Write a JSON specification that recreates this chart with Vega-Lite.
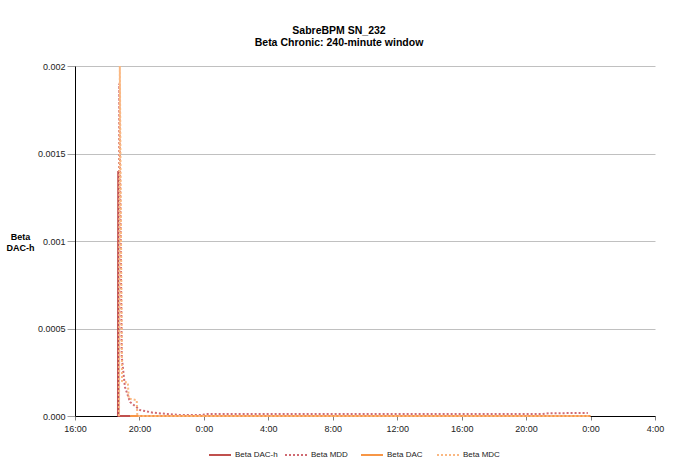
{
  "$schema": "https://vega.github.io/schema/vega-lite/v6.json",
  "width": 580,
  "height": 350,
  "autosize": {"type": "none"},
  "padding": {"left": 75, "top": 66, "right": 18, "bottom": 58},
  "background": "white",
  "title": {
    "text": ["SabreBPM SN_232", "Beta Chronic: 240-minute window"],
    "fontSize": 10.5,
    "fontWeight": "bold",
    "color": "#000000",
    "lineHeight": 12,
    "anchor": "middle",
    "dx": -26,
    "offset": 14
  },
  "data": {
    "values": [
      {"h": 18.667, "s": "Beta DAC-h", "v": 0},
      {"h": 18.683, "s": "Beta DAC-h", "v": 0.0014},
      {"h": 18.700, "s": "Beta DAC-h", "v": 0},
      {"h": 19.417, "s": "Beta DAC-h", "v": 0},
      {"h": 18.700, "s": "Beta MDD", "v": 0},
      {"h": 18.750, "s": "Beta MDD", "v": 0.0019},
      {"h": 18.900, "s": "Beta MDD", "v": 0.00034},
      {"h": 19.100, "s": "Beta MDD", "v": 0.000166},
      {"h": 19.417, "s": "Beta MDD", "v": 0.00008},
      {"h": 20.033, "s": "Beta MDD", "v": 0.000034},
      {"h": 20.833, "s": "Beta MDD", "v": 0.000019},
      {"h": 21.767, "s": "Beta MDD", "v": 0.000011},
      {"h": 22.500, "s": "Beta MDD", "v": 0.0000057},
      {"h": 23.917, "s": "Beta MDD", "v": 0.0000057},
      {"h": 24.083, "s": "Beta MDD", "v": 0.0000114},
      {"h": 45.000, "s": "Beta MDD", "v": 0.0000114},
      {"h": 45.500, "s": "Beta MDD", "v": 0.000016},
      {"h": 47.833, "s": "Beta MDD", "v": 0.000017},
      {"h": 19.417, "s": "Beta DAC", "v": 0},
      {"h": 48.000, "s": "Beta DAC", "v": 0},
      {"h": 18.733, "s": "Beta MDC", "v": 0},
      {"h": 18.783, "s": "Beta MDC", "v": 0.002},
      {"h": 18.917, "s": "Beta MDC", "v": 0.0002},
      {"h": 19.283, "s": "Beta MDC", "v": 0.00019},
      {"h": 19.333, "s": "Beta MDC", "v": 0.0001},
      {"h": 19.833, "s": "Beta MDC", "v": 0.00009},
      {"h": 19.867, "s": "Beta MDC", "v": 0},
      {"h": 48.000, "s": "Beta MDC", "v": 0}
    ]
  },
  "mark": {"type": "line", "strokeWidth": 2},
  "encoding": {
    "x": {
      "field": "h",
      "type": "quantitative",
      "scale": {"domain": [16, 52], "nice": false, "zero": false},
      "axis": {
        "title": null,
        "values": [16, 20, 24, 28, 32, 36, 40, 44, 48, 52],
        "labelExpr": "(datum.value % 24) + ':00'",
        "grid": false,
        "domainColor": "#000000",
        "tickColor": "#808080",
        "tickSize": 4,
        "labelFontSize": 9,
        "labelColor": "#222222",
        "labelPadding": 4,
        "labelFlush": false,
        "labelOverlap": false
      }
    },
    "y": {
      "field": "v",
      "type": "quantitative",
      "scale": {"domain": [0, 0.002], "nice": false},
      "axis": {
        "values": [0, 0.0005, 0.001, 0.0015, 0.002],
        "format": "~g",
        "labelExpr": "datum.value == 0 ? '0.000' : datum.label",
        "title": ["Beta", "DAC-h"],
        "titleAngle": 0,
        "titleAlign": "center",
        "titleBaseline": "middle",
        "titleX": -55,
        "titleY": 170,
        "titleFontSize": 9,
        "titleFontWeight": "bold",
        "titleColor": "#000000",
        "titleLineHeight": 11,
        "grid": true,
        "gridColor": "#C0C0C0",
        "gridWidth": 1,
        "domainColor": "#000000",
        "tickColor": "#A0A0A0",
        "tickSize": 8,
        "labelFontSize": 9,
        "labelColor": "#222222",
        "labelPadding": 2
      }
    },
    "color": {
      "field": "s",
      "type": "nominal",
      "scale": {
        "domain": ["Beta DAC-h", "Beta MDD", "Beta DAC", "Beta MDC"],
        "range": ["#C0504D", "#D06A72", "#F79646", "#FAB882"]
      },
      "legend": {
        "title": null,
        "orient": "none",
        "legendX": 133,
        "legendY": 377,
        "direction": "horizontal",
        "symbolType": "stroke",
        "symbolSize": 484,
        "symbolStrokeWidth": 2,
        "gridAlign": "all",
        "columnPadding": 3,
        "labelOffset": 3,
        "labelFontSize": 8,
        "labelColor": "#222222"
      }
    },
    "strokeDash": {
      "field": "s",
      "type": "nominal",
      "scale": {
        "domain": ["Beta DAC-h", "Beta MDD", "Beta DAC", "Beta MDC"],
        "range": [[1, 0], [2, 2], [1, 0], [2, 2]]
      },
      "legend": {
        "title": null,
        "orient": "none",
        "legendX": 133,
        "legendY": 377,
        "direction": "horizontal",
        "symbolType": "stroke",
        "symbolSize": 484,
        "symbolStrokeWidth": 2,
        "gridAlign": "all",
        "columnPadding": 3,
        "labelOffset": 3,
        "labelFontSize": 8,
        "labelColor": "#222222"
      }
    }
  },
  "config": {
    "view": {"stroke": null},
    "font": "Liberation Sans"
  }
}
